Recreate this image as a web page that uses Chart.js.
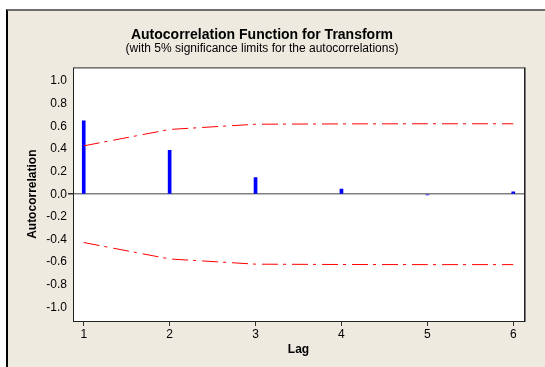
<!DOCTYPE html>
<html>
<head>
<meta charset="utf-8">
<script src="https://cdn.jsdelivr.net/npm/chart.js@4/dist/chart.umd.min.js"></script>
<style>
  html, body { margin: 0; padding: 0; background: #fff; }
  #frame {
    position: absolute; left: 6px; top: 9px; width: 539px; height: 358px;
    background: #EEEAE0; border-top: 2px solid #6E6E6E; border-left: 2px solid #000;
    box-sizing: border-box;
  }
  #wrap { position: absolute; left: 0; top: 0; width: 545px; height: 367px; }
</style>
</head>
<body>
<div id="frame"></div>
<div id="wrap"><canvas id="acfChart" width="545" height="367"></canvas></div>
<script>
const lags = [1, 2, 3, 4, 5, 6];
const acf = [0.648, 0.388, 0.146, 0.045, -0.006, 0.022];
const upperLimit = [0.427, 0.572, 0.618, 0.621, 0.622, 0.622];
const lowerLimit = upperLimit.map(v => -v);
const yTicks = [-1.0, -0.8, -0.6, -0.4, -0.2, 0.0, 0.2, 0.4, 0.6, 0.8, 1.0];

const FONT = '"Liberation Sans", Arial, sans-serif';

const pts = (ys) => lags.map((x, i) => ({ x: x, y: ys[i] }));

// white plot area + dark frame round it
const plotFrame = {
  id: 'plotFrame',
  beforeDraw(chart) {
    const { ctx, chartArea: a } = chart;
    ctx.save();
    ctx.fillStyle = '#fff';
    ctx.fillRect(a.left, a.top, a.right - a.left, a.bottom - a.top);
    ctx.restore();
  },
  afterDraw(chart) {
    const { ctx, chartArea: a } = chart;
    ctx.save();
    ctx.strokeStyle = '#222';
    ctx.lineWidth = 1;
    ctx.strokeRect(a.left + 0.5, a.top + 0.5, a.right - a.left, a.bottom - a.top);
    ctx.strokeStyle = '#7a7a7a';
    ctx.beginPath();
    ctx.moveTo(a.right + 1.5, a.top);
    ctx.lineTo(a.right + 1.5, a.bottom + 1);
    ctx.stroke();
    ctx.restore();
  }
};

const limitStyle = {
  type: 'line',
  borderColor: '#FF0000',
  borderWidth: 1,
  borderDash: [16, 5, 3, 6],
  pointRadius: 0,
  fill: false,
  tension: 0,
  order: 0
};

const ctx = document.getElementById('acfChart').getContext('2d');
const acfChart = new Chart(ctx, {
  type: 'bar',
  data: {
    datasets: [
      {
        label: 'ACF',
        data: pts(acf),
        backgroundColor: '#0000FF',
        borderWidth: 0,
        barThickness: 3,
        order: 1
      },
      { ...limitStyle, label: 'Upper', data: pts(upperLimit) },
      { ...limitStyle, label: 'Lower', data: pts(lowerLimit) }
    ]
  },
  options: {
    responsive: false,
    animation: false,
    layout: { padding: { left: 0, right: 21, top: 0, bottom: 0 } },
    plugins: {
      legend: { display: false },
      tooltip: { enabled: false },
      title: {
        display: true,
        text: 'Autocorrelation Function for Transform',
        color: '#000',
        font: { family: FONT, size: 14, weight: 'bold', lineHeight: 1.1 },
        padding: { top: 27, bottom: 0 }
      },
      subtitle: {
        display: true,
        text: '(with 5% significance limits for the autocorrelations)',
        color: '#000',
        font: { family: FONT, size: 12, lineHeight: 1.0 },
        padding: { top: 0, bottom: 13 }
      }
    },
    scales: {
      x: {
        type: 'linear',
        min: 0.875,
        max: 6.125,
        offset: false,
        afterFit: s => { s.height = 46; },
        afterBuildTicks: s => { s.ticks = lags.map(v => ({ value: v })); },
        border: { display: false },
        grid: { display: true, offset: false, drawOnChartArea: false, tickLength: 5, tickColor: '#333' },
        ticks: { color: '#000', font: { family: FONT, size: 12 }, padding: 1, maxRotation: 0 },
        title: {
          display: true, text: 'Lag', color: '#000',
          font: { family: FONT, size: 12, weight: 'bold' },
          padding: { top: 0, bottom: 10 }
        }
      },
      y: {
        min: -1.12,
        max: 1.12,
        afterFit: s => { s.width = 73; },
        afterBuildTicks: s => { s.ticks = yTicks.map(v => ({ value: v })); },
        border: { display: false },
        grid: {
          color: c => (c.tick && c.tick.value === 0 ? '#808080' : 'rgba(0,0,0,0)'),
          lineWidth: c => (c.tick && c.tick.value === 0 ? 1.5 : 0),
          tickLength: 5,
          tickColor: '#333'
        },
        ticks: {
          color: '#000',
          font: { family: FONT, size: 12 },
          padding: 1,
          callback: v => v.toFixed(1)
        },
        title: {
          display: true, text: 'Autocorrelation', color: '#000',
          font: { family: FONT, size: 12, weight: 'bold' },
          padding: { top: 25, bottom: 0 }
        }
      }
    }
  },
  plugins: [plotFrame]
});
</script>
</body>
</html>
